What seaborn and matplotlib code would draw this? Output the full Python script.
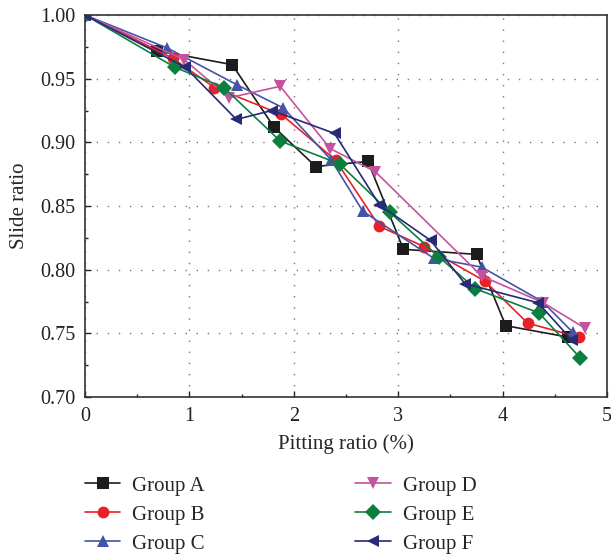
import numpy as np
import pandas as pd
import matplotlib
matplotlib.use("Agg")
import matplotlib.pyplot as plt
from matplotlib.ticker import MultipleLocator
import seaborn as sns

groups = ["Group A", "Group B", "Group C", "Group D", "Group E", "Group F"]

x_A = [0, 0.69, 1.41, 1.81, 2.21, 2.71, 3.05, 3.75, 4.03, 4.63]
y_A = [1.000, 0.972, 0.961, 0.912, 0.881, 0.885, 0.816, 0.812, 0.756, 0.747]

x_B = [0, 0.84, 1.24, 1.88, 2.40, 2.82, 3.25, 3.83, 4.24, 4.73]
y_B = [1.000, 0.966, 0.943, 0.922, 0.886, 0.834, 0.818, 0.791, 0.758, 0.747]

x_C = [0, 0.79, 1.46, 1.90, 2.36, 2.66, 3.34, 3.80, 4.38, 4.67]
y_C = [1.000, 0.974, 0.945, 0.927, 0.886, 0.846, 0.809, 0.802, 0.775, 0.751]

x_D = [0, 0.95, 1.38, 1.87, 2.35, 2.78, 3.80, 4.39, 4.79]
y_D = [1.000, 0.965, 0.935, 0.944, 0.895, 0.877, 0.795, 0.774, 0.754]

x_E = [0, 0.86, 1.33, 1.87, 2.44, 2.92, 3.39, 3.74, 4.35, 4.74]
y_E = [1.000, 0.959, 0.943, 0.901, 0.883, 0.845, 0.810, 0.785, 0.766, 0.731]

x_F = [0, 0.96, 1.45, 1.79, 2.39, 2.82, 3.31, 3.64, 4.34, 4.66]
y_F = [1.000, 0.959, 0.918, 0.925, 0.907, 0.851, 0.823, 0.789, 0.774, 0.745]

xs = [x_A, x_B, x_C, x_D, x_E, x_F]
ys = [y_A, y_B, y_C, y_D, y_E, y_F]

colors = ["#1c1c1c", "#e8202a", "#4453a6", "#c4539f", "#0c7f3f", "#262a77"]
marker_list = ["s", "o", "^", "v", "D", "<"]

rows = []
for g, xv, yv in zip(groups, xs, ys):
    for i, (a, b) in enumerate(zip(xv, yv)):
        rows.append({"Group": g, "order": i, "Pitting": a, "Slide": b})
df = pd.DataFrame(rows)

sns.set_style("ticks")
plt.rcParams["font.family"] = ["Liberation Serif", "DejaVu Serif"]
plt.rcParams["mathtext.fontset"] = "stix"

fig = plt.figure(figsize=(6.11, 5.59), dpi=100)
ax = fig.add_axes([85 / 611, 1 - 397 / 559, (607 - 85) / 611, (397 - 15) / 559])

sns.lineplot(
    data=df, x="Pitting", y="Slide", hue="Group", style="Group",
    hue_order=groups, style_order=groups,
    palette=dict(zip(groups, colors)),
    markers=dict(zip(groups, marker_list)), dashes=False,
    sort=False, estimator=None, units="Group",
    linewidth=1.2, markersize=8.5, markeredgewidth=0, ax=ax, legend=True,
)

ax.set_xlim(0, 5)
ax.set_ylim(0.70, 1.00)
ax.xaxis.set_major_locator(MultipleLocator(1))
ax.xaxis.set_minor_locator(MultipleLocator(0.5))
ax.yaxis.set_major_locator(MultipleLocator(0.05))
ax.yaxis.set_minor_locator(MultipleLocator(0.025))
ax.xaxis.set_major_formatter(plt.FuncFormatter(lambda v, p: f"{v:g}"))
ax.yaxis.set_major_formatter(plt.FuncFormatter(lambda v, p: f"{v:.2f}"))

ax.tick_params(which="major", direction="in", length=4.5, width=1, labelsize=14.5, pad=7, colors="#222222")
ax.tick_params(which="minor", direction="in", length=2.5, width=1, colors="#222222")
for s in ax.spines.values():
    s.set_linewidth(1.2)
    s.set_color("#333333")

ax.grid(True, which="major", color="#777777", linestyle=(0, (1, 7)), linewidth=1.0)
ax.set_axisbelow(True)

ax.set_xlabel("Pitting ratio (%)", fontsize=15, labelpad=6)
ax.set_ylabel("Slide ratio", fontsize=15, labelpad=8)

handles, labels = ax.get_legend_handles_labels()
ax.legend_.remove()
leg = fig.legend(handles, labels, loc="upper left", bbox_to_anchor=(85 / 611, 1 - 476 / 559),
                 ncol=2, frameon=False, fontsize=15, borderpad=0, borderaxespad=0,
                 handlelength=1.7, handletextpad=0.58, columnspacing=7.2, labelspacing=0.45)

fig.savefig("out.png", dpi=100)
